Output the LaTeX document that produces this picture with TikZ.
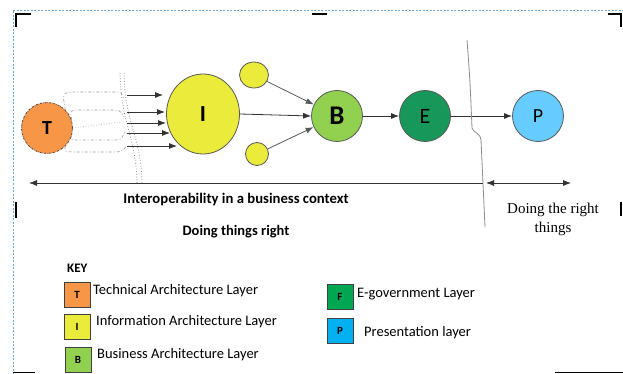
\documentclass[tikz,border=0pt]{standalone}
\usepackage{fontspec}
\setmainfont{Carlito}
\newfontfamily\timesfont{Liberation Serif}
\usetikzlibrary{arrows.meta,positioning,shapes.geometric,calc}

\definecolor{tOrange}{HTML}{F79646}
\definecolor{iYellow}{HTML}{EBEB3B}
\definecolor{bGreen}{HTML}{92D050}
\definecolor{eGreen}{HTML}{17985A}
\definecolor{pBlue}{HTML}{66CCFF}
\definecolor{keyF}{HTML}{00A651}
\definecolor{keyP}{HTML}{00B0F0}
\definecolor{frameBlue}{HTML}{6FA8DC}

\tikzset{
  layer/.style={circle,draw=black!65,line width=0.8pt,minimum size=51pt,inner sep=0pt,font=\fontsize{22}{22}\selectfont},
  keybox/.style={draw=black!75,line width=0.8pt,minimum width=26pt,minimum height=25pt,inner sep=0pt,font=\bfseries\fontsize{11}{11}\selectfont},
  keytext/.style={anchor=west,inner sep=0pt,font=\fontsize{14.5}{14.5}\selectfont},
  feed/.style={draw=black!40,dash pattern=on 3pt off 2pt on 1pt off 2pt,line width=0.6pt},
  edge/.style={->,draw=black!80,line width=0.8pt},
  >={Latex[length=8pt,width=6pt]}
}

\begin{document}
\begin{tikzpicture}[x=1pt,y=-1pt]
    \useasboundingbox (0,0) rectangle (623,374);
    % page frame and crop marks
    \draw[frameBlue,dash pattern=on 2pt off 1.5pt,line width=0.6pt] (13,374) -- (13,10) -- (623,10);
    \draw[line width=2.5pt] (16,27) -- (16,14) -- (31,14);
    \draw[line width=2.5pt] (312,14) -- (327,14);
    \draw[line width=2.5pt] (608,14) -- (621,14) -- (621,27);
    \draw[line width=2.5pt] (16,202) -- (16,218);
    \draw[line width=2.5pt] (621,202) -- (621,216);
    \draw[line width=0.8pt] (13,372) -- (35,372);
    \draw[line width=0.8pt] (555,372) -- (623,372);

    % layers
    \node[layer,fill=tOrange,draw=black!70,dash pattern=on 2pt off 1pt on 0.5pt off 1pt,font=\bfseries\fontsize{20}{20}\selectfont] (T) at (47,128) {T};
    \node[ellipse,draw=black!65,line width=0.8pt,fill=iYellow,minimum width=73pt,minimum height=80pt,inner sep=0pt,font=\bfseries\fontsize{23}{23}\selectfont] (I) at (203,114) {I};
    \node[ellipse,draw=black!65,line width=0.8pt,fill=iYellow,minimum width=29pt,minimum height=26pt] (s1) at (254,75) {};
    \node[ellipse,draw=black!65,line width=0.8pt,fill=iYellow,minimum width=23pt,minimum height=23pt] (s2) at (257,154) {};
    \node[layer,fill=bGreen,font=\bfseries\fontsize{27}{27}\selectfont] (B) at (337,116) {B};
    \node[layer,fill=eGreen] (E) at (425,116) {E};
    \node[layer,fill=pBlue,font=\fontsize{20}{20}\selectfont] (P) at (538,116) {P};

    % loose feeds from T
    \draw[feed] (T.45) .. controls (62,92) .. (80,92) -- (112,92) .. controls (122,92) .. (124,100);
    \draw[feed] (T.18) .. controls (70,110) .. (80,110) -- (110,110) .. controls (120,110) .. (124,117);
    \draw[feed,dotted] (T.0) -- (122,122);
    \draw[feed] (T.-15) .. controls (70,140) .. (80,140) -- (112,140) .. controls (121,140) .. (125,132);
    \draw[feed] (T.-45) .. controls (64,152) .. (80,152) -- (112,152) .. controls (122,152) .. (127,145);
    \draw[black!55,dotted,line width=0.7pt] (120,73) .. controls (121,125) and (136,135) .. (137,183);
    \draw[black!55,dotted,line width=0.7pt] (124,73) .. controls (125,125) and (141,135) .. (142,183);

    \foreach \n/\y/\x in {1/95/163,2/112/165,3/123/166,4/133/170,5/146/177} {
        \coordinate (f\n) at (127,\y);
        \coordinate (g\n) at (\x,\y);
        \draw[edge] (f\n) -- (g\n);
    }

    \draw[edge] (I.east) -- (B.west);
    \draw[edge,draw=black!65] (s1) -- (B);
    \draw[edge,draw=black!65] (s2) -- (B);
    \draw[edge] (B) -- (E);
    \draw[edge] (E) -- (P);

    % boundary between the two halves
    \draw[black!45,line width=0.8pt] (467,40) .. controls (470,80) .. (472,128) .. controls (473,133) and (480,132) .. (481,140) -- (485,227);
    \coordinate (lft) at (29,183);
    \coordinate (mid) at (483,183);
    \coordinate (mid2) at (486,183);
    \coordinate (rgt) at (571,183);
    \draw[edge,<-] (lft) -- (mid);
    \draw[edge,<->] (mid2) -- (rgt);

    \node[font=\bfseries\fontsize{14.7}{14.7}\selectfont] (ctx) at (236,199) {Interoperability in a business context};
    \node[font=\bfseries\fontsize{14.5}{14.5}\selectfont] (how) at (236,232) {Doing things right};
    \node[font=\timesfont\fontsize{15}{19}\selectfont,align=center] (what) at (553,219) {Doing the right\\things};

    % key
    \node[anchor=west,font=\bfseries\fontsize{13}{13}\selectfont,inner sep=0pt] (key) at (67,268) {KEY};
    \node[keybox,fill=tOrange] (kT) at (77,295) {T};
    \node[keybox,fill=iYellow] (kI) at (77,327) {I};
    \node[keybox,fill=bGreen] (kB) at (78,360) {B};
    \node[keybox,fill=keyF] (kF) at (340,297) {F};
    \node[keybox,fill=keyP] (kP) at (340,331) {P};
    \node[keytext] (lT) at (93,291) {Technical Architecture Layer};
    \node[keytext] (lI) at (96,322) {Information Architecture Layer};
    \node[keytext] (lB) at (97,355) {Business Architecture Layer};
    \node[keytext] (lF) at (357,294) {E-government Layer};
    \node[keytext] (lP) at (364,333) {Presentation layer};
\end{tikzpicture}
\end{document}
